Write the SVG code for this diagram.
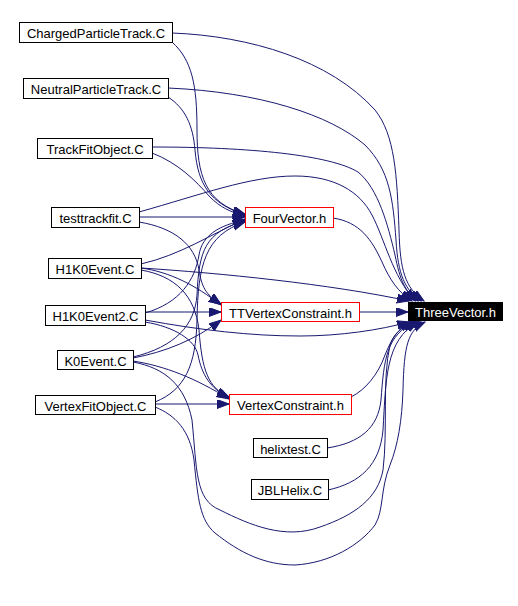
<svg xmlns="http://www.w3.org/2000/svg" width="518" height="606" viewBox="0 0 518 606">
<defs>
<style>
.n rect{fill:#fff;stroke:#000;stroke-width:1}
.n.r rect{stroke:#f00}
.n.k rect{fill:#000;stroke:#000}
.n text{font-family:"Liberation Sans",Arial,sans-serif;font-size:13px;text-anchor:middle;fill:#000}
.n.k text{fill:#fff}
#edges path{fill:none;stroke:#191970;stroke-width:1;marker-end:url(#a)}
</style>
<marker id="a" markerUnits="userSpaceOnUse" markerWidth="13" markerHeight="10" refX="12" refY="4.5" orient="auto">
<path d="M0,0 L12,4.5 L0,9 z" fill="#191970" stroke="#191970" stroke-width="1"/>
</marker>
</defs>
<rect width="518" height="606" fill="#fff"/>
<g id="edges">
<path d="M172,33 C250,36 330,60 375,110 C395,135 397,175 399,230 C400,270 405,288 424,301"/>
<path d="M168,88 C260,92 330,115 365,145 C390,170 393,200 396,240 C398,275 405,290 421,301"/>
<path d="M152,147 C250,147 330,155 358,172 C378,188 388,225 395,255 C400,280 405,292 418,301"/>
<path d="M139,212 C200,195 250,176 295,176 C335,176 360,192 372,215 C385,240 392,275 415,301"/>
<path d="M333,218 C360,222 372,240 382,262 C390,280 398,292 412,301"/>
<path d="M141,268 C220,273 330,284 409,301"/>
<path d="M139,217 L245,217"/>
<path d="M172,42 C192,60 197,85 197,130 C197,175 205,203 245,214"/>
<path d="M168,97 C185,108 193,125 195,150 C198,185 210,203 245,215"/>
<path d="M152,153 C178,163 195,180 210,197 C220,207 230,212 245,216"/>
<path d="M141,264 C180,255 210,235 245,219"/>
<path d="M145,313 C180,303 195,280 199,255 C202,235 220,225 245,220"/>
<path d="M133,357 C175,347 195,325 197,295 C199,250 205,232 245,221"/>
<path d="M155,402 C185,390 196,365 197,320 C198,265 205,235 245,222"/>
<path d="M139,222 C175,228 195,245 199,270 C202,290 208,296 221,304"/>
<path d="M141,268 C170,272 195,285 221,305"/>
<path d="M145,312 L221,312"/>
<path d="M133,358 C165,352 195,340 221,320"/>
<path d="M141,270 C175,276 195,295 199,330 C202,370 208,388 229,397"/>
<path d="M145,322 C175,327 195,340 198,355 C202,375 210,388 229,398"/>
<path d="M133,361 C165,366 195,378 229,399"/>
<path d="M155,404 L229,404"/>
<path d="M359,312 L408,312"/>
<path d="M351,397 C365,390 378,375 385,355 C392,338 398,328 412,322"/>
<path d="M145,320 C200,330 250,336 300,336 C340,336 380,330 409,322"/>
<path d="M327,448 C360,443 378,428 381,400 C384,360 386,335 415,322"/>
<path d="M328,490 C360,483 380,465 383,430 C386,380 385,340 418,322"/>
<path d="M133,362 C165,368 185,385 192,420 C197,470 195,500 220,510 C250,525 285,540 320,527 C355,515 378,498 383,470 C388,430 382,380 390,345 C395,330 405,325 421,322"/>
<path d="M155,407 C175,415 190,430 194,460 C198,500 200,520 215,533 C240,553 265,565 295,565 C330,563 360,545 375,525 C384,510 380,490 390,465 C398,445 402,420 403,390 C404,345 408,330 425,322"/>
</g>
<g id="ChargedParticleTrack" class="n"><rect x="19.5" y="22.5" width="153" height="20"/><text x="96" y="38">ChargedParticleTrack.C</text></g>
<g id="NeutralParticleTrack" class="n"><rect x="23.5" y="78.5" width="145" height="20"/><text x="96" y="94">NeutralParticleTrack.C</text></g>
<g id="TrackFitObject" class="n"><rect x="37.5" y="138.5" width="115" height="20"/><text x="95" y="154">TrackFitObject.C</text></g>
<g id="testtrackfit" class="n"><rect x="51.5" y="207.5" width="88" height="20"/><text x="95.5" y="223">testtrackfit.C</text></g>
<g id="H1K0Event" class="n"><rect x="48.5" y="258.5" width="93" height="20"/><text x="95" y="274">H1K0Event.C</text></g>
<g id="H1K0Event2" class="n"><rect x="45.5" y="305.5" width="100" height="20"/><text x="95.5" y="321">H1K0Event2.C</text></g>
<g id="K0Event" class="n"><rect x="57.5" y="350.5" width="76" height="19"/><text x="95.5" y="365.5">K0Event.C</text></g>
<g id="VertexFitObject" class="n"><rect x="35.5" y="395.5" width="120" height="19"/><text x="95.5" y="410.5">VertexFitObject.C</text></g>
<g id="FourVector" class="n r"><rect x="245.5" y="207.5" width="88" height="20"/><text x="289.5" y="223">FourVector.h</text></g>
<g id="TTVertexConstraint" class="n r"><rect x="221.5" y="302.5" width="138" height="19"/><text x="290.5" y="317.5">TTVertexConstraint.h</text></g>
<g id="VertexConstraint" class="n r"><rect x="229.5" y="394.5" width="122" height="20"/><text x="290.5" y="410">VertexConstraint.h</text></g>
<g id="ThreeVector" class="n k"><rect x="408.5" y="302.5" width="94" height="18"/><text x="455.5" y="317">ThreeVector.h</text></g>
<g id="helixtest" class="n"><rect x="253.5" y="438.5" width="74" height="19"/><text x="290.5" y="453.5">helixtest.C</text></g>
<g id="JBLHelix" class="n"><rect x="251.5" y="479.5" width="77" height="20"/><text x="290" y="495">JBLHelix.C</text></g>
</svg>
